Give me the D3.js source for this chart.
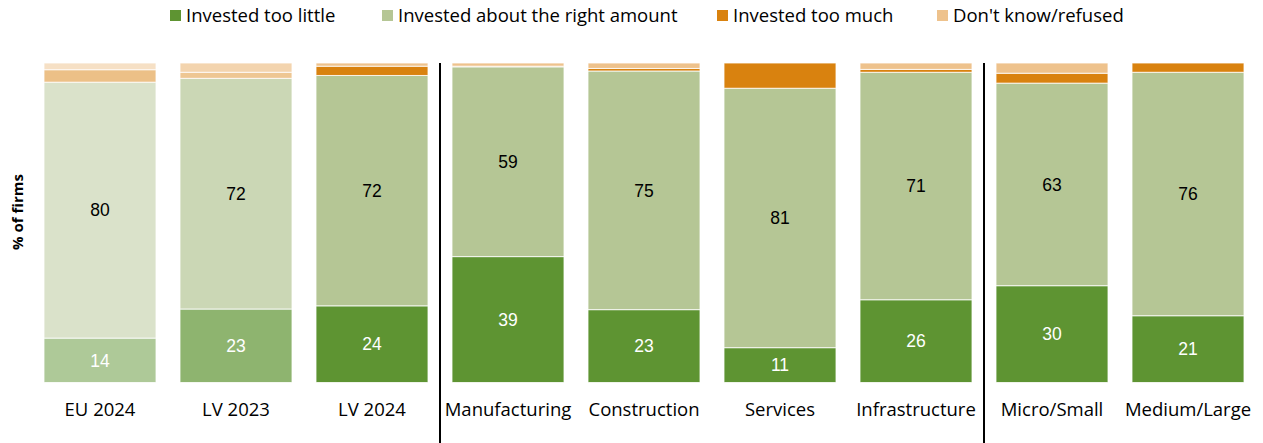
<!DOCTYPE html>
<html><head><meta charset="utf-8">
<script src="https://cdn.jsdelivr.net/npm/d3@7"></script>
<style>
body{margin:0;background:#fff;}
svg{display:block;}
</style></head>
<body><svg id="chart" width="1263" height="443"></svg>
<script>
const categories = ["EU 2024","LV 2023","LV 2024","Manufacturing","Construction","Services","Infrastructure","Micro/Small","Medium/Large"];
const seriesNames = ["Invested too little","Invested about the right amount","Invested too much","Don't know/refused"];
const tooLittle  = [13.9, 23.0, 24.0, 39.4, 22.8, 10.9, 25.9, 30.3, 20.9];
const rightAmount= [80.1, 72.2, 72.1, 59.4, 74.7, 81.2, 71.2, 63.4, 76.2];
const tooMuch    = [3.9, 1.9, 2.9, 0.2, 0.8, 7.9, 0.9, 3.1, 2.9];
const dontKnow   = [2.1, 2.9, 1.0, 1.0, 1.7, 0.0, 2.0, 3.2, 0.0];
const yTicks = [0, 100];
const groupSeparatorsAfter = ["LV 2024","Infrastructure"];

const colors = ["#5E9432","#B5C695","#D9820F","#EEC28C"];
const fades = {"EU 2024":[0.5,0.5,0.5,0.5], "LV 2023":[0.7,0.7,0.45,0.7]};
const textFont = "'Open Sans', Lato, sans-serif";

const W = 1263, H = 443;
const margin = {top:63, bottom:61, left:32, right:7};
const svg = d3.select("#chart");

const x = d3.scaleBand().domain(categories).range([margin.left, W - margin.right])
  .paddingInner(24/136).paddingOuter(12/136);
const y = d3.scaleLinear().domain([0,100]).range([H - margin.bottom + 0.5, margin.top]);

const rows = categories.map((c,i)=>({cat:c, v:[tooLittle[i], rightAmount[i], tooMuch[i], dontKnow[i]]}));
const stack = d3.stack().keys([0,1,2,3]).value((d,k)=>d.v[k]);
const layers = stack(rows);

const g = svg.append("g");
layers.forEach((layer, k) => {
  g.selectAll(null).data(layer).enter().append("rect")
    .attr("x", d => x(d.data.cat))
    .attr("width", x.bandwidth())
    .attr("y", d => y(d[1]))
    .attr("height", d => Math.max(0, y(d[0]) - y(d[1])))
    .attr("fill", colors[k])
    .attr("fill-opacity", d => fades[d.data.cat] ? fades[d.data.cat][k] : 1)
    .attr("stroke", "#fff").attr("stroke-opacity", 0.8).attr("stroke-width", 1)
    .attr("display", d => (d[1]-d[0]) > 0 ? null : "none");
});

// value labels for first two series
[0,1].forEach(k => {
  g.selectAll(null).data(layers[k]).enter().append("text")
    .attr("x", d => x(d.data.cat) + x.bandwidth()/2)
    .attr("y", d => (y(d[0]) + y(d[1]))/2)
    .attr("dy", "0.36em")
    .attr("text-anchor", "middle")
    .attr("font-family", "'Liberation Sans', Arial, sans-serif")
    .attr("font-size", 17.5)
    .attr("fill", k === 0 ? "#fff" : "#000")
    .text(d => d3.format(".0f")(d[1]-d[0]));
});

// x axis labels
const xAxis = d3.axisBottom(x).tickSize(0).tickPadding(0);
const ax = svg.append("g").attr("transform", `translate(0,${H - margin.bottom})`).call(xAxis);
ax.select(".domain").remove();
ax.selectAll("text").attr("font-family", textFont)
  .attr("font-size", 18.5).attr("fill", "#000").attr("dy", null).attr("y", 34);

// y axis (label only)
const yAxis = d3.axisLeft(y).tickValues(yTicks).tickSize(0).tickFormat("");
const ay = svg.append("g").attr("transform", `translate(${margin.left},0)`).call(yAxis);
ay.select(".domain").remove();
svg.append("text")
  .attr("transform", `translate(23,212) rotate(-90)`)
  .attr("text-anchor", "middle")
  .attr("font-family", textFont)
  .attr("font-weight", "bold").attr("font-size", 15)
  .text("% of firms");

// group separators
groupSeparatorsAfter.forEach(c => {
  const i = categories.indexOf(c);
  const sx = x(categories[i]) + x.bandwidth() + (x.step() - x.bandwidth())/2;
  svg.append("line").attr("x1", sx).attr("x2", sx).attr("y1", margin.top).attr("y2", H)
    .attr("stroke", "#000").attr("stroke-width", 2);
});

// legend
const legendX = [170, 382, 717, 937];
const lg = svg.append("g");
seriesNames.forEach((s,k) => {
  const it = lg.append("g").attr("transform", `translate(${legendX[k]},16)`);
  it.append("rect").attr("x", 0).attr("y", -6).attr("width", 11).attr("height", 11).attr("fill", colors[k]);
  it.append("text").attr("x", 16).attr("y", 0).attr("dy", "0.35em")
    .attr("font-family", textFont).attr("font-size", 18.5)
    .attr("fill", "#000").text(s);
});
</script>
</body></html>
